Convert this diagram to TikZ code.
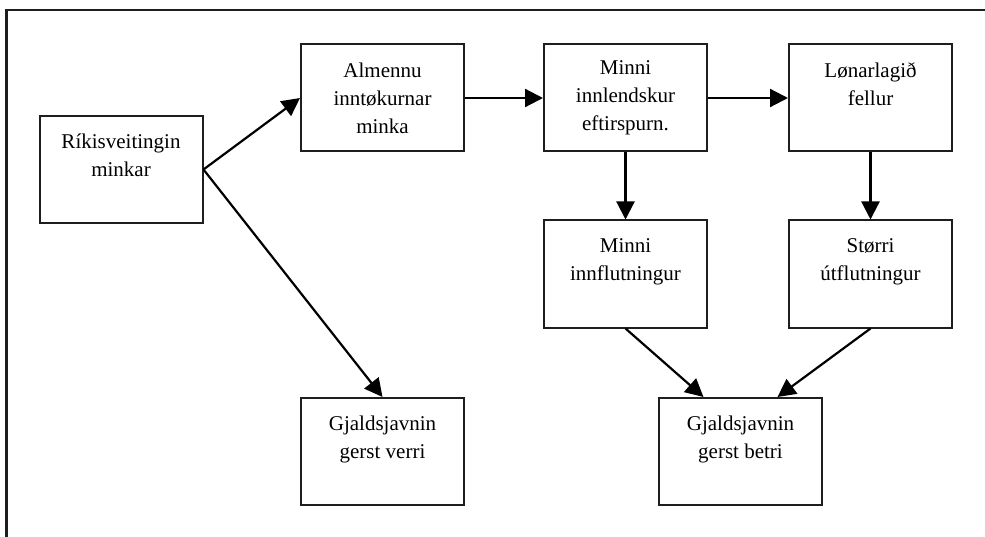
\documentclass[tikz,border=0pt]{standalone}
\usepackage{fontspec}
\setmainfont{Liberation Serif}
\usetikzlibrary{arrows.meta,calc,positioning}
\definecolor{frgray}{RGB}{30,30,30}
\tikzset{
  flowbox/.style={draw=frgray,line width=2pt,minimum width=163pt,minimum height=107pt,
    inner sep=0pt,align=center,font=\fontsize{21}{28}\selectfont},
  flowarr/.style={->,line width=2.2pt,black}
}

\begin{document}
\begin{tikzpicture}[x=1pt,y=-1pt,>={Triangle[length=18pt,width=18pt]}]
    \useasboundingbox (0,0) rectangle (985,537);
    \draw[line width=2.4pt,frgray] (6.5,537)--(6.5,10)--(985,10);
    \foreach \nm/\x/\y/\txt in {
      rik/121/169.5/{Ríkisveitingin\\minkar\\\mbox{}},
      alm/382.5/98/{Almennu\\inntøkurnar\\minka},
      inn/625.5/98/{Minni\\innlendskur\\eftirspurn.},
      lon/870.5/98/{Lønarlagið\\fellur\\\mbox{}},
      imp/625.5/274/{Minni\\innflutningur\\\mbox{}},
      exp/870.5/274/{Størri\\útflutningur\\\mbox{}},
      ver/382.5/451.5/{Gjaldsjavnin\\gerst verri\\\mbox{}},
      bet/740.5/451.5/{Gjaldsjavnin\\gerst betri\\\mbox{}}} {
      \node[flowbox] (\nm) at (\x,\y) {\txt};
    }
    \foreach \a/\b in {rik.east/alm.west,rik.east/ver.north,alm.east/inn.west,inn.east/lon.west,
      inn.south/imp.north,lon.south/exp.north} {
      \draw[flowarr] (\a)--(\b);
    }
    \draw[flowarr] (imp.south)--([xshift=-37pt]bet.north);
    \draw[flowarr] (exp.south)--([xshift=37pt]bet.north);
  \end{tikzpicture}
\end{document}
